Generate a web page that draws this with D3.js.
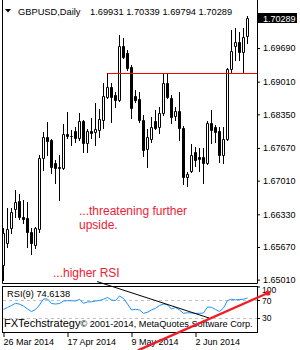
<!DOCTYPE html>
<html>
<head>
<meta charset="utf-8">
<script src="https://cdn.jsdelivr.net/npm/d3@7"></script>
<style>
  body { margin: 0; background: #fff; }
  svg { display: block; font-family: "Liberation Sans", Arial, sans-serif; }
</style>
</head>
<body>
<svg id="chart" width="300" height="350"></svg>
<script>
// daily bars, 26 Mar 2014 .. 19 Jun 2014 (weekdays)
let dates = d3.utcDays(new Date(Date.UTC(2014, 2, 26)), new Date(Date.UTC(2014, 5, 20)))
  .filter(function(d) { return d.getUTCDay() % 6 !== 0; });

let opens = [1.65307, 1.65751, 1.66054, 1.66438, 1.66599, 1.66276, 1.66256, 1.65973, 1.65711, 1.66034,
  1.67468, 1.67892, 1.67832, 1.67367, 1.67286, 1.67266, 1.67953, 1.67912, 1.68013, 1.67872,
  1.68215, 1.67771, 1.68013, 1.67993, 1.68034, 1.68236, 1.68700, 1.68902, 1.68741, 1.68640,
  1.69730, 1.69589, 1.69306, 1.68720, 1.68660, 1.68236, 1.67650, 1.67852, 1.68215, 1.68094,
  1.68377, 1.68983, 1.68680, 1.68316, 1.68417, 1.68074, 1.67084, 1.67205, 1.67589, 1.67488,
  1.67488, 1.67367, 1.68175, 1.68094, 1.68013, 1.67529, 1.67852, 1.69266, 1.69730, 1.69811,
  1.69609, 1.69931];
let highs = [1.66054, 1.66458, 1.66458, 1.66822, 1.66741, 1.66620, 1.66579, 1.66054, 1.66074, 1.67529,
  1.67993, 1.68195, 1.67852, 1.67428, 1.67529, 1.68155, 1.68397, 1.68034, 1.68094, 1.68377,
  1.68236, 1.68054, 1.68276, 1.68579, 1.68458, 1.68983, 1.69185, 1.68983, 1.68801, 1.69953,
  1.69892, 1.69650, 1.69347, 1.68842, 1.68801, 1.68337, 1.68054, 1.68296, 1.68438, 1.68498,
  1.69185, 1.69185, 1.68741, 1.68498, 1.68801, 1.68114, 1.67185, 1.67751, 1.67690, 1.67670,
  1.67670, 1.68215, 1.68438, 1.68135, 1.68094, 1.68094, 1.69286, 1.70054, 1.70094, 1.70013,
  1.70094, 1.70339];
let lows = [1.65004, 1.65670, 1.65953, 1.66276, 1.66236, 1.66155, 1.65670, 1.65529, 1.65650, 1.65973,
  1.67226, 1.67529, 1.67165, 1.66963, 1.66620, 1.67246, 1.67872, 1.67731, 1.67791, 1.67832,
  1.67589, 1.67589, 1.67872, 1.67731, 1.67892, 1.68074, 1.68680, 1.68195, 1.68498, 1.68619,
  1.69488, 1.69246, 1.68276, 1.68599, 1.68195, 1.67508, 1.67286, 1.67791, 1.68054, 1.67973,
  1.68337, 1.68680, 1.68175, 1.68236, 1.67832, 1.66943, 1.66902, 1.67185, 1.67306, 1.67205,
  1.66963, 1.67347, 1.67771, 1.67791, 1.67387, 1.67367, 1.67832, 1.69205, 1.69448, 1.69448,
  1.69185, 1.69794];
let closes = [1.65953, 1.66034, 1.66377, 1.66579, 1.66276, 1.66236, 1.65973, 1.65751, 1.66054, 1.67468,
  1.67892, 1.67811, 1.67286, 1.67266, 1.67266, 1.67953, 1.67912, 1.67902, 1.67872, 1.68215,
  1.67771, 1.68013, 1.67973, 1.68054, 1.68256, 1.68720, 1.68902, 1.68700, 1.68640, 1.69730,
  1.69508, 1.69286, 1.68478, 1.68640, 1.68236, 1.67630, 1.67892, 1.68094, 1.68074, 1.68377,
  1.68983, 1.68700, 1.68296, 1.68417, 1.68074, 1.67084, 1.67145, 1.67529, 1.67428, 1.67448,
  1.67367, 1.68175, 1.68034, 1.67993, 1.67529, 1.67852, 1.69266, 1.69630, 1.69811, 1.69609,
  1.69912, 1.70289];

let rsi = [49.3, 53.3, 57.8, 62.7, 60.7, 56.7, 50.0, 44.4, 48.9, 58.9,
  72.2, 72.2, 62.2, 61.1, 62.2, 67.8, 68.4, 68.4, 67.8, 71.6,
  62.7, 65.6, 66.0, 67.8, 68.9, 71.6, 75.6, 70.0, 68.9, 78.9,
  73.3, 61.1, 47.8, 49.3, 47.8, 40.4, 42.7, 47.8, 51.6, 57.8,
  61.1, 58.9, 50.0, 53.3, 47.8, 40.4, 41.8, 41.1, 40.4, 40.4,
  41.1, 54.4, 53.8, 48.9, 44.4, 52.2, 68.9, 71.6, 70.4, 71.1,
  71.6, 74.6138];

let priceTicks = [1.69690, 1.69010, 1.68350, 1.67670, 1.67010, 1.66330, 1.65670, 1.65010];
let rsiTicks = [100, 70, 30];
let rsiLevels = [70, 30];
let dateTicks = ["26 Mar 2014", "17 Apr 2014", "9 May 2014", "2 Jun 2014"];

// drawn objects: [bar index, value]
let resistance = [[26, 1.69185], [63.4, 1.69185]];
let rsiTrend = [[23.4, 111], [51.4, 30]];
let redArrow = [[33.6, -42], [66.1, 85.6]];

let svg = d3.select("#chart");
let fmt = d3.format(".5f");
let dateFmt = d3.utcFormat("%-d %b %Y");

let xScale = d3.scaleLinear().domain([0, dates.length - 1]).range([3.5, 247.5]);
let yScale = d3.scaleLinear().domain([1.64922, 1.70599]).range([284, 3]);
let rsiScale = d3.scaleLinear().domain([0, 100]).range([331.5, 286.5]);

// panel frames
svg.append("path")
  .attr("d", "M2.5,0V283.5H257.5V0")
  .attr("fill", "none").attr("stroke", "#000");
svg.append("rect")
  .attr("x", 2.5).attr("y", 286.5).attr("width", 255).attr("height", 46)
  .attr("fill", "none").attr("stroke", "#000");

// candles
let candles = dates.map(function(d, i) {
  return { i: i, o: opens[i], h: highs[i], l: lows[i], c: closes[i] };
});
let graph = svg.append("g");
graph.selectAll(".wick").data(candles).join("line")
  .attr("class", "wick")
  .attr("x1", function(d) { return xScale(d.i); })
  .attr("x2", function(d) { return xScale(d.i); })
  .attr("y1", function(d) { return Math.round(yScale(d.h)); })
  .attr("y2", function(d) { return Math.round(yScale(d.l)) + 1; })
  .attr("stroke", "#000");
graph.selectAll(".body").data(candles).join("path")
  .attr("class", "body")
  .attr("d", function(d) {
    let top = Math.round(yScale(Math.max(d.o, d.c))) + 0.5;
    let bot = Math.round(yScale(Math.min(d.o, d.c))) + 0.5;
    return "M" + (xScale(d.i) - 1) + "," + top + "h2V" + bot + "h-2Z";
  })
  .attr("fill", function(d) { return d.c >= d.o ? "#fff" : "#000"; })
  .attr("stroke", "#000");

// resistance line
svg.append("line")
  .attr("x1", xScale(resistance[0][0])).attr("x2", xScale(resistance[1][0]))
  .attr("y1", Math.round(yScale(resistance[0][1])) + 0.5)
  .attr("y2", Math.round(yScale(resistance[1][1])) + 0.5)
  .attr("stroke", "#ff0000").attr("stroke-width", 1);

// price axis
let yAxis = d3.axisRight(yScale).tickValues(priceTicks).tickSize(3).tickPadding(3).tickFormat(fmt);
let yAxisG = svg.append("g")
  .attr("transform", "translate(257,0)")
  .call(yAxis);
yAxisG.select(".domain").remove();
yAxisG.selectAll("text").style("font-size", "9px").style("font-family", "Liberation Sans, Arial, sans-serif");

// last price box
let last = candles[candles.length - 1];
let lastY = yScale(last.c);
svg.append("rect")
  .attr("x", 258).attr("y", Math.round(lastY) - 5).attr("width", 39).attr("height", 10)
  .attr("fill", "#000");
svg.append("text")
  .attr("x", 263).attr("y", Math.round(lastY) + 3.5)
  .attr("fill", "#fff").style("font-size", "9px")
  .text(fmt(last.c));

// RSI panel
svg.selectAll(".level").data(rsiLevels).join("line")
  .attr("class", "level")
  .attr("x1", 3).attr("x2", 257)
  .attr("y1", function(d) { return Math.round(rsiScale(d)) + 0.5; })
  .attr("y2", function(d) { return Math.round(rsiScale(d)) + 0.5; })
  .attr("stroke", "#c0c0c0").attr("stroke-dasharray", "3,3");

let rsiLine = d3.line()
  .x(function(d, i) { return xScale(i); })
  .y(function(d) { return rsiScale(d); });
svg.append("path")
  .attr("d", rsiLine(rsi))
  .attr("fill", "none").attr("stroke", "#1e90ff").attr("stroke-width", 1);

svg.append("text")
  .attr("x", 7).attr("y", 297)
  .style("font-size", "9.3px")
  .text("RSI(9) " + rsi[rsi.length - 1].toFixed(4));

let rsiAxis = d3.axisRight(rsiScale).tickValues(rsiTicks).tickSize(3).tickPadding(2);
let rsiAxisG = svg.append("g")
  .attr("transform", "translate(257,0)")
  .call(rsiAxis);
rsiAxisG.select(".domain").remove();
rsiAxisG.selectAll("text")
  .style("font-size", "8.5px").style("font-family", "Liberation Sans, Arial, sans-serif")
  .attr("dy", function(d) { return d === 100 ? "0.7em" : d === 70 ? "0.4em" : "0.32em"; });

// time axis
let tickIdx = dateTicks.map(function(t) {
  return dates.findIndex(function(d) { return dateFmt(d) === t; });
});
let xAxis = d3.axisBottom(xScale).tickValues(tickIdx).tickSize(4).tickPadding(2)
  .tickFormat(function(i) { return dateFmt(dates[i]); });
let xAxisG = svg.append("g")
  .attr("transform", "translate(0,333)")
  .call(xAxis);
xAxisG.select(".domain").remove();
xAxisG.selectAll("text")
  .attr("text-anchor", "start").attr("x", -0.5)
  .style("font-size", "9px").style("font-family", "Liberation Sans, Arial, sans-serif");

// header
svg.append("path").attr("d", "M5,9h6l-3,3.5Z").attr("fill", "#000");
svg.append("text").attr("x", 18).attr("y", 15).style("font-size", "9.3px").text("GBPUSD,Daily");
svg.append("text").attr("x", 90).attr("y", 15).style("font-size", "9.3px")
  .text([last.o, last.h, last.l, last.c].map(fmt).join(" "));

// copyright
let copy = svg.append("text").attr("x", 4).attr("y", 327);
copy.append("tspan").style("font-size", "11px").text("FXTechstrategy");
copy.append("tspan").style("font-size", "9.2px").text("© 2001-2014, MetaQuotes Software Corp.");

// annotations
let noteColor = "#ee2034";
svg.append("text").attr("x", 79).attr("y", 215).attr("fill", noteColor)
  .style("font-size", "12px").text("...threatening further");
svg.append("text").attr("x", 79).attr("y", 228.5).attr("fill", noteColor)
  .style("font-size", "12px").text("upside.");
svg.append("text").attr("x", 53).attr("y", 277).attr("fill", noteColor)
  .style("font-size", "12px").text("...higher RSI");

let objLine = d3.line()
  .x(function(d) { return xScale(d[0]); })
  .y(function(d) { return rsiScale(d[1]); });
svg.append("path").attr("d", objLine(rsiTrend))
  .attr("fill", "none").attr("stroke", "#000").attr("stroke-width", 1);
svg.append("path").attr("d", objLine(redArrow))
  .attr("fill", "none").attr("stroke", "#f01c28").attr("stroke-width", 2.4);
svg.append("circle")
  .attr("cx", xScale(redArrow[1][0])).attr("cy", rsiScale(redArrow[1][1]))
  .attr("r", 2.6).attr("fill", "#f01c28");
</script>
</body>
</html>
